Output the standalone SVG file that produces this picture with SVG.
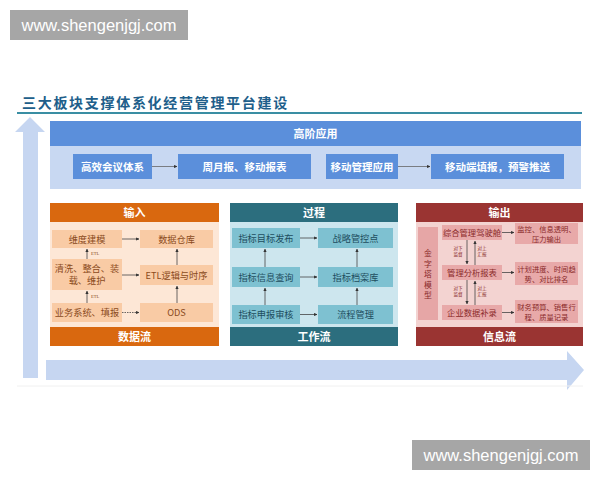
<svg xmlns="http://www.w3.org/2000/svg" width="600" height="480" viewBox="0 0 600 480">
<defs>
<style>
.cjk{font-family:"Noto Sans CJK SC","Noto Sans",sans-serif;}
.hd{font-family:"Noto Sans CJK SC",sans-serif;font-weight:bold;fill:#fff;font-size:11px;text-anchor:middle;}
.tb{fill:#5b8fdb;}
.tt{font-family:"Noto Sans CJK SC",sans-serif;font-weight:bold;fill:#fff;font-size:10.5px;text-anchor:middle;}
.ob{fill:#f9cba5;}
.ot{font-family:"Noto Sans CJK SC",sans-serif;fill:#8a4a1c;font-size:9.2px;text-anchor:middle;}
.pb{fill:#7ec1d1;}
.pt{font-family:"Noto Sans CJK SC",sans-serif;fill:#1d4d5e;font-size:9.2px;text-anchor:middle;}
.rb{fill:#e8a9a9;}
.rt{font-family:"Noto Sans CJK SC",sans-serif;fill:#8a2a2a;font-size:8.3px;text-anchor:middle;}
.py{font-family:"Noto Sans CJK SC",sans-serif;fill:#8a2a2a;font-size:7.8px;text-anchor:middle;}
.rs{font-family:"Noto Sans CJK SC",sans-serif;fill:#8a2a2a;font-size:7.3px;text-anchor:middle;}
.tiny{font-family:"Noto Sans CJK SC",sans-serif;fill:#8a2a2a;font-size:4.6px;text-anchor:middle;}
.etl{font-family:"Liberation Serif",serif;fill:#8a4a1c;font-size:4.5px;}
.cn{stroke:#444;stroke-width:0.8;fill:none;marker-end:url(#ah);}
.cn2{stroke:#666;stroke-width:0.8;fill:none;marker-end:url(#ah);}
.wm{font-family:"Liberation Sans",Arial,sans-serif;fill:#fff;font-size:16.5px;text-anchor:middle;}
</style>
<marker id="ah" viewBox="0 0 6 6" refX="5.5" refY="3" markerWidth="4" markerHeight="4" orient="auto">
<path d="M0,0 L6,3 L0,6 z" fill="#333"/>
</marker>
</defs>
<rect x="0" y="0" width="600" height="480" fill="#fff"/>

<!-- watermarks -->
<g id="wm-top">
<rect x="10" y="10" width="178" height="30" fill="#a6a6a6"/>
<text class="wm" x="99" y="31">www.shengenjgj.com</text>
</g>
<g id="wm-bottom">
<rect x="412" y="440" width="178" height="30" fill="#a6a6a6"/>
<text class="wm" x="501" y="461">www.shengenjgj.com</text>
</g>

<!-- title -->
<g id="title">
<text x="22" y="108" style="font-family:'Noto Sans CJK SC',sans-serif;font-weight:bold;font-size:14px;letter-spacing:1.7px;fill:#205e8a;">三大板块支撑体系化经营管理平台建设</text>
<line x1="17" y1="113" x2="582" y2="113" stroke="#3a8ea3" stroke-width="2.2"/>
</g>

<!-- big arrows -->
<g id="axes">
<polygon points="23,378 23,132 15,132 30,117 45,132 38,132 38,378" fill="#c6d6f1"/>
<polygon points="46,360 567,360 567,351 584,370 567,390 567,380 46,380" fill="#c6d6f1"/>
<line x1="17" y1="386" x2="583" y2="386" stroke="#f0f0f0" stroke-width="1"/>
</g>

<!-- top section -->
<g id="high-app">
<rect x="50" y="121" width="531" height="25" fill="#5b8fdb"/>
<text class="hd" x="315.5" y="137.5">高阶应用</text>
<rect x="50" y="146" width="531" height="43" fill="#c8d8f2"/>
</g>
<g id="n-meeting"><rect class="tb" x="73" y="154" width="79" height="25"/><text class="tt" x="112.5" y="170.5">高效会议体系</text></g>
<g id="n-weekly"><rect class="tb" x="178" y="154" width="133" height="25"/><text class="tt" x="244.5" y="170.5">周月报、移动报表</text></g>
<g id="n-mobile"><rect class="tb" x="326" y="154" width="72" height="25"/><text class="tt" x="362" y="170.5">移动管理应用</text></g>
<g id="n-push"><rect class="tb" x="431" y="154" width="133" height="25"/><text class="tt" x="497.5" y="170.5">移动端填报，预警推送</text></g>

<!-- input panel -->
<g id="p-input">
<rect x="50" y="203" width="169" height="19" fill="#d9680f"/>
<text class="hd" x="134.5" y="216.5">输入</text>
<rect x="50" y="222" width="169" height="105" fill="#fde7d6"/>
<rect x="50" y="327" width="169" height="19" fill="#d9680f"/>
<text class="hd" x="134.5" y="340.5">数据流</text>
</g>
<g id="n-dim"><rect class="ob" x="52" y="230" width="70" height="18"/><text class="ot" x="87" y="242.5">维度建模</text></g>
<g id="n-dw"><rect class="ob" x="140" y="230" width="73" height="18"/><text class="ot" x="176.5" y="242.5">数据仓库</text></g>
<g id="n-clean"><rect class="ob" x="52" y="259" width="70" height="31"/><text class="ot" x="87" y="271.5">清洗、整合、装</text><text class="ot" x="87" y="284">载、维护</text></g>
<g id="n-etl"><rect class="ob" x="140" y="265" width="73" height="20"/><text class="ot" x="176.5" y="278.5">ETL逻辑与时序</text></g>
<g id="n-biz"><rect class="ob" x="52" y="303" width="70" height="19"/><text class="ot" x="87" y="316">业务系统、填报</text></g>
<g id="n-ods"><rect class="ob" x="140" y="303" width="73" height="19"/><text class="ot" x="176.5" y="316">ODS</text></g>

<!-- process panel -->
<g id="p-process">
<rect x="230" y="203" width="168" height="19" fill="#2c6e7e"/>
<text class="hd" x="314" y="216.5">过程</text>
<rect x="230" y="222" width="168" height="105" fill="#cde6ee"/>
<rect x="230" y="327" width="168" height="19" fill="#2c6e7e"/>
<text class="hd" x="314" y="340.5">工作流</text>
</g>
<g id="n-target"><rect class="pb" x="232" y="228" width="68" height="20"/><text class="pt" x="266" y="241.5">指标目标发布</text></g>
<g id="n-strategy"><rect class="pb" x="318" y="228" width="75" height="20"/><text class="pt" x="355.5" y="241.5">战略管控点</text></g>
<g id="n-query"><rect class="pb" x="232" y="267" width="68" height="20"/><text class="pt" x="266" y="280.5">指标信息查询</text></g>
<g id="n-archive"><rect class="pb" x="318" y="267" width="75" height="20"/><text class="pt" x="355.5" y="280.5">指标档案库</text></g>
<g id="n-audit"><rect class="pb" x="232" y="305" width="68" height="19"/><text class="pt" x="266" y="318">指标申报审核</text></g>
<g id="n-flow"><rect class="pb" x="318" y="305" width="75" height="19"/><text class="pt" x="355.5" y="318">流程管理</text></g>

<!-- output panel -->
<g id="p-output">
<rect x="416" y="203" width="167" height="19" fill="#9a3432"/>
<text class="hd" x="499.5" y="216.5">输出</text>
<rect x="416" y="222" width="167" height="105" fill="#f3d3d1"/>
<rect x="416" y="327" width="167" height="19" fill="#9a3432"/>
<text class="hd" x="499.5" y="340.5">信息流</text>
</g>
<g id="n-pyramid"><rect x="418" y="227" width="20" height="93" fill="#e6a6a6"/>
<text class="py" x="428" y="256">金</text><text class="py" x="428" y="266.5">字</text><text class="py" x="428" y="277">塔</text><text class="py" x="428" y="287.5">模</text><text class="py" x="428" y="298">型</text></g>
<g id="n-cockpit"><rect class="rb" x="442" y="225" width="60" height="15"/><text class="rt" x="472" y="235.5">综合管理驾驶舱</text></g>
<g id="n-monitor"><rect class="rb" x="515" y="223" width="63" height="21"/><text class="rs" x="546.5" y="232">监控、信息透明、</text><text class="rs" x="546.5" y="241.5">压力输出</text></g>
<g id="n-report"><rect class="rb" x="442" y="265" width="60" height="15"/><text class="rt" x="472" y="275.5">管理分析报表</text></g>
<g id="n-plan"><rect class="rb" x="515" y="262" width="63" height="23"/><text class="rs" x="546.5" y="271.5">计划进度、时间趋</text><text class="rs" x="546.5" y="281.5">势、对比排名</text></g>
<g id="n-supp"><rect class="rb" x="442" y="305" width="60" height="15"/><text class="rt" x="472" y="315.5">企业数据补录</text></g>
<g id="n-finance"><rect class="rb" x="515" y="300" width="63" height="23"/><text class="rs" x="546.5" y="309.5">财务预算、销售行</text><text class="rs" x="546.5" y="319.5">程、质量记录</text></g>

<!-- connectors -->
<g id="connectors">
<line class="cn2" x1="152" y1="166.5" x2="177" y2="166.5"/>
<line class="cn2" x1="398" y1="166.5" x2="430" y2="166.5"/>

<line class="cn" x1="122" y1="239" x2="139" y2="239"/>
<line class="cn" x1="122" y1="275" x2="139" y2="275"/>
<line class="cn" x1="122" y1="312.5" x2="139" y2="312.5" stroke-dasharray="1.5,1" stroke="#888"/>
<line class="cn" x1="87" y1="259" x2="87" y2="249"/>
<line class="cn" x1="87" y1="303" x2="87" y2="291"/>
<line class="cn" x1="177" y1="303" x2="177" y2="286"/>
<line class="cn" x1="177" y1="265" x2="177" y2="249"/>
<text class="etl" x="91" y="255">ETL</text>
<text class="etl" x="91" y="298">ETL</text>

<line class="cn" x1="300" y1="238" x2="317" y2="238"/>
<line class="cn" x1="300" y1="277" x2="317" y2="277"/>
<line class="cn" x1="300" y1="314.5" x2="317" y2="314.5"/>
<line class="cn" x1="265" y1="305" x2="265" y2="288"/>
<line class="cn" x1="265" y1="267" x2="265" y2="249"/>
<line class="cn" x1="357" y1="305" x2="357" y2="288"/>
<line class="cn" x1="357" y1="267" x2="357" y2="249"/>

<line class="cn" x1="502" y1="232.5" x2="514" y2="232.5"/>
<line class="cn" x1="502" y1="272.5" x2="514" y2="272.5"/>
<line class="cn" x1="502" y1="312.5" x2="514" y2="312.5"/>
<line class="cn" x1="467" y1="240" x2="467" y2="264"/>
<line class="cn" x1="475" y1="265" x2="475" y2="241"/>
<line class="cn" x1="467" y1="280" x2="467" y2="304"/>
<line class="cn" x1="475" y1="305" x2="475" y2="281"/>
<text class="tiny" x="458" y="250">对下</text><text class="tiny" x="458" y="256">监督</text>
<text class="tiny" x="482" y="250">对上</text><text class="tiny" x="482" y="256">汇报</text>
<text class="tiny" x="458" y="290">对下</text><text class="tiny" x="458" y="296">监督</text>
<text class="tiny" x="482" y="290">对上</text><text class="tiny" x="482" y="296">汇报</text>
</g>
</svg>
